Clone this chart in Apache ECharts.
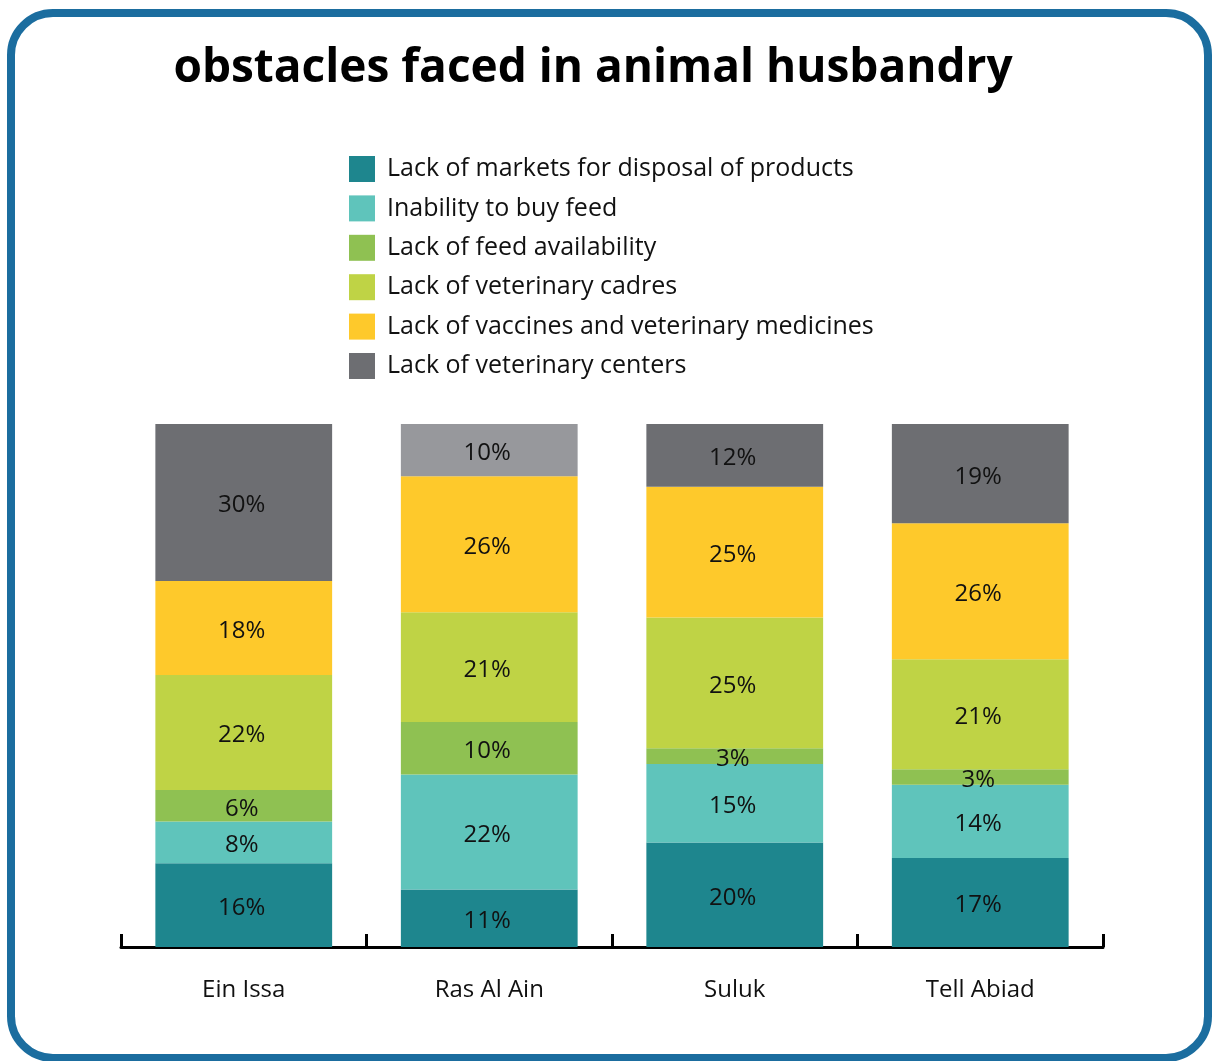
<!DOCTYPE html>
<html>
<head>
<meta charset="utf-8">
<script src="https://cdn.jsdelivr.net/npm/echarts@6/dist/echarts.min.js"></script>
<style>
html,body{margin:0;padding:0;background:#fff;}
#frame{position:absolute;left:7px;top:9px;width:1205px;height:1053px;box-sizing:border-box;border:8px solid #1b6d9f;border-radius:46px;}
#main{position:absolute;left:0;top:0;width:1212px;height:1061px;}
</style>
</head>
<body>
<div id="frame"></div>
<div id="main"></div>
<script>
const categories = ['Ein Issa', 'Ras Al Ain', 'Suluk', 'Tell Abiad'];
const seriesNames = [
  'Lack of markets for disposal of products',
  'Inability to buy feed',
  'Lack of feed availability',
  'Lack of veterinary cadres',
  'Lack of vaccines and veterinary medicines',
  'Lack of veterinary centers'
];
const markets   = [16, 11, 20, 17];
const buyFeed   = [8, 22, 15, 14];
const feedAvail = [6, 10, 3, 3];
const cadres    = [22, 21, 25, 21];
const vaccines  = [18, 26, 25, 26];
const centers   = [30, 10, 12, 19];
const colors = ['#1e868e', '#5fc4bb', '#8fc152', '#bfd345', '#fec92b', '#6d6e72'];
const lightGray = '#97989c';

const allData = [markets, buyFeed, feedAvail, cadres, vaccines, centers];
const font = 'Open Sans';

const series = allData.map((arr, i) => ({
  name: seriesNames[i],
  type: 'bar',
  stack: 'total',
  barWidth: '72%',
  itemStyle: { color: colors[i] },
  label: {
    show: true,
    position: 'inside',
    formatter: '{c}%',
    color: '#111',
    fontFamily: font,
    fontSize: 24,
    offset: [-2, 3]
  },
  data: arr.map((v, j) => (i === 5 && j === 1) ? { value: v, itemStyle: { color: lightGray } } : v)
}));

const chart = echarts.init(document.getElementById('main'), null, { renderer: 'canvas' });
chart.setOption({
  animation: false,
  backgroundColor: 'transparent',
  title: {
    text: 'obstacles faced in animal husbandry',
    left: 593,
    textAlign: 'center',
    top: 46,
    padding: 0,
    textStyle: { fontFamily: font, fontWeight: 'bold', fontSize: 46, color: '#000' }
  },
  legend: {
    orient: 'vertical',
    left: 349,
    top: 156,
    padding: 0,
    itemWidth: 26,
    itemHeight: 26,
    itemGap: 13.4,
    icon: 'rect',
    textStyle: { fontFamily: font, fontSize: 25, color: '#111', padding: [0, 0, 0, 7] },
    data: seriesNames
  },
  grid: { left: 121, right: 109, top: 424, bottom: 114, containLabel: false },
  xAxis: {
    type: 'category',
    data: categories,
    axisLine: { lineStyle: { color: '#000', width: 3 } },
    axisTick: { show: true, inside: true, length: 13, lineStyle: { color: '#000', width: 3 } },
    axisLabel: { fontFamily: font, fontSize: 24, color: '#111', margin: 31 }
  },
  yAxis: {
    type: 'value',
    min: 0,
    max: 100,
    show: false
  },
  series: series
});
</script>
</body>
</html>
